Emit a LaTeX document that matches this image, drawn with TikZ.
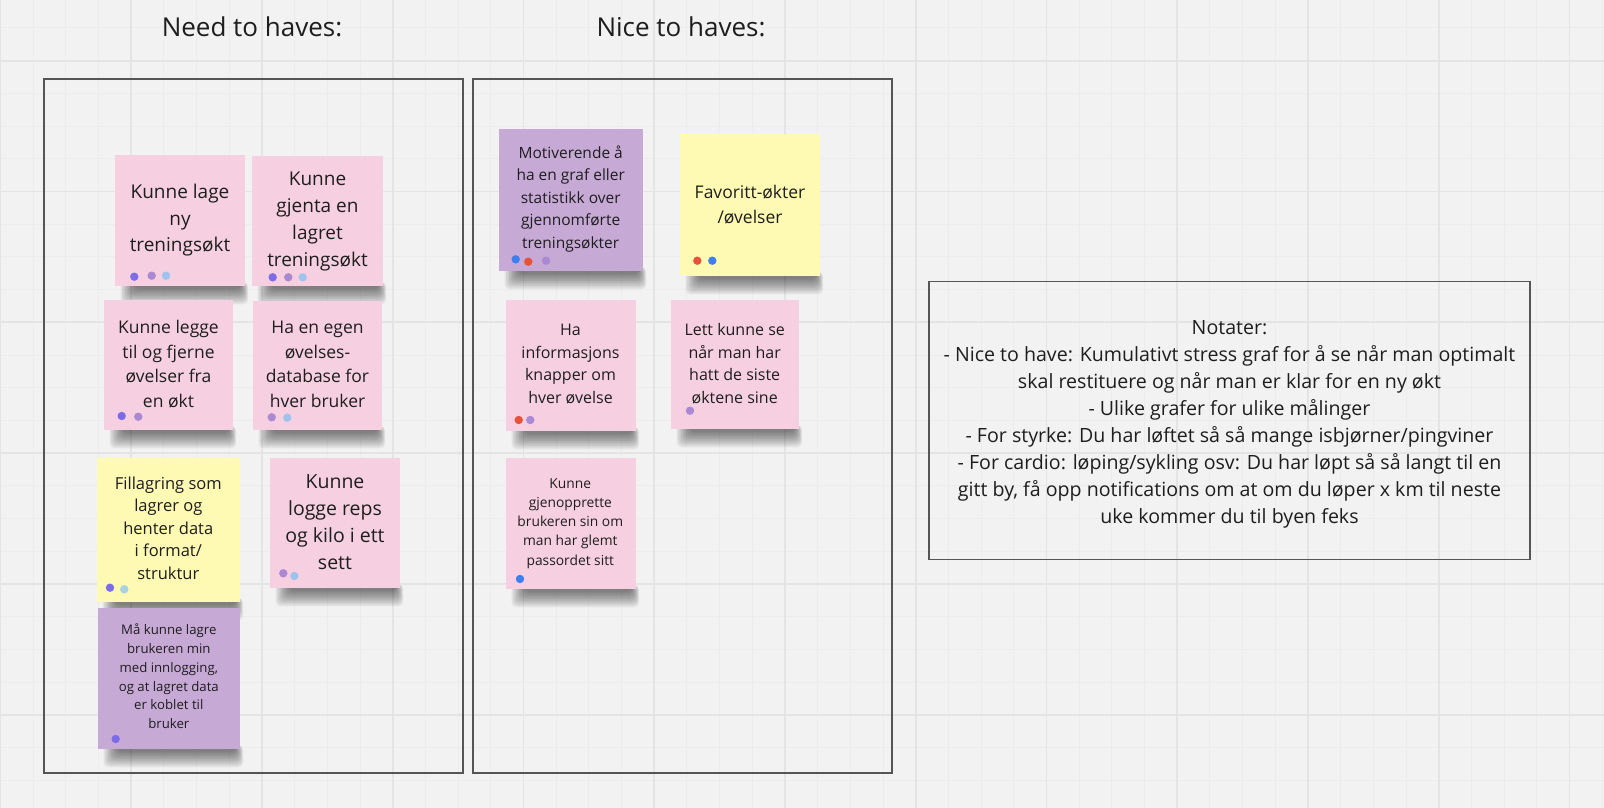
\documentclass[tikz,border=0pt]{standalone}
\usepackage{fontspec}
\setmainfont{Open Sans}
\definecolor{bgc}{HTML}{F2F2F2}
\definecolor{gridminor}{HTML}{ECECEC}
\definecolor{gridmajor}{HTML}{E4E4E4}
\definecolor{framec}{HTML}{555555}
\definecolor{textc}{HTML}{1E1E1E}
\definecolor{pinkc}{HTML}{F6D0E0}
\definecolor{yellowc}{HTML}{FEF9B3}
\definecolor{purplec}{HTML}{C7A9D6}
\definecolor{dotpb}{HTML}{7D6CE8}
\definecolor{dotvi}{HTML}{AA89D2}
\definecolor{dotlb}{HTML}{9FC2EF}
\definecolor{dotrd}{HTML}{E6533A}
\definecolor{dotbl}{HTML}{3D7FEF}
\definecolor{dottl}{HTML}{A6D2E2}
\pgfdeclarelayer{gridlayer}
\pgfdeclarelayer{shadowlayer}
\pgfsetlayers{gridlayer,shadowlayer,main}
\newcommand{\myfs}[2]{\fontsize{#1pt}{#2pt}\selectfont}
\newcommand{\nshadow}[1]{%
  \begin{pgfonlayer}{shadowlayer}
  \foreach \j in {1,...,10} {
    \fill[black, opacity=0.06, rounded corners=5pt]
      ([xshift={(4+1.5*\j)*1pt}, yshift=4pt]#1.south west) rectangle
      ([xshift={(4-0.8*\j)*1pt}, yshift={(1.7*\j-20)*1pt}]#1.south east);
  }
  \end{pgfonlayer}}
\tikzset{
  note/.style={draw=none, inner sep=0, outer sep=0},
  pinknote/.style={note, fill=pinkc},
  yellownote/.style={note, fill=yellowc},
  purplenote/.style={note, fill=purplec},
  notetext/.style={inner sep=0, outer sep=0, align=center, text=textc},
  frame/.style={draw=framec, line width=1.3pt, fill=none},
  dot/.style={circle, inner sep=0, minimum size=8.4pt, draw=none},
  title/.style={inner sep=0, text=textc, anchor=base, font=\myfs{26}{32}},
}
\begin{document}
\begin{tikzpicture}[x=1pt, y=-1pt]
\useasboundingbox (0,0) rectangle (1604,808);
\begin{pgfonlayer}{gridlayer}
\fill[bgc] (0,0) rectangle (1604,808);
\foreach \i in {0,...,49} {
  \draw[gridminor, line width=1pt] ({0.5+\i*32.6875},0) -- ({0.5+\i*32.6875},808);
}
\foreach \k in {-1,...,23} {
  \draw[gridminor, line width=1pt] (0,{60.7+\k*32.7}) -- (1604,{60.7+\k*32.7});
}
\foreach \i in {0,...,12} {
  \draw[gridmajor, line width=1.8pt] ({0.5+\i*130.75},0) -- ({0.5+\i*130.75},808);
}
\foreach \k in {0,...,5} {
  \draw[gridmajor, line width=1.8pt] (0,{60.7+\k*130.8}) -- (1604,{60.7+\k*130.8});
}
\end{pgfonlayer}
% titles
\node[title] (tneed) at (252,36.7) {Need to haves:};
\node[title] (tnice) at (681,36.7) {Nice to haves:};
% frames
\node[frame, minimum width=419pt, minimum height=694pt, inner sep=0] (fneed) at (253.5,426) {};
\node[frame, minimum width=419pt, minimum height=694pt, inner sep=0] (fnice) at (682.5,426) {};
\node[frame, minimum width=601pt, minimum height=278pt, inner sep=0] (fnotes) at (1229.5,420.5) {};
% notes
\node[pinknote, minimum width=130pt, minimum height=131pt] (n1) at (180,220.5) {};
\node[pinknote, minimum width=131pt, minimum height=130pt] (n2) at (317.5,221) {};
\node[pinknote, minimum width=129pt, minimum height=130pt] (n3) at (168.5,365) {};
\node[pinknote, minimum width=129pt, minimum height=129pt] (n4) at (317.5,365.5) {};
\node[yellownote, minimum width=143pt, minimum height=144pt] (n5) at (168.5,530) {};
\node[pinknote, minimum width=130pt, minimum height=130pt] (n6) at (335,523) {};
\node[purplenote, minimum width=142pt, minimum height=141pt] (n7) at (169,678.5) {};
\node[purplenote, minimum width=144pt, minimum height=142pt] (n8) at (571,200) {};
\node[yellownote, minimum width=140pt, minimum height=142pt] (n9) at (750,205) {};
\node[pinknote, minimum width=130pt, minimum height=131pt] (n10) at (571,365.5) {};
\node[pinknote, minimum width=128pt, minimum height=129pt] (n11) at (735,364.5) {};
\node[pinknote, minimum width=130pt, minimum height=131pt] (n12) at (571,523.5) {};
\foreach \nn in {n1,n2,n3,n4,n5,n6,n7,n8,n9,n10,n11,n12} {\nshadow{\nn}}
% note texts
\node[notetext, font=\myfs{19}{26.7}] (t1) at (180,219.7) {\strut Kunne lage\\ny\\treningsøkt\strut};
\node[notetext, font=\myfs{19}{27}] (t2) at (317.5,220.8) {\strut Kunne\\gjenta en\\lagret\\treningsøkt\strut};
\node[notetext, font=\myfs{17.5}{24.8}] (t3) at (168.5,365.5) {\strut Kunne legge\\til og fjerne\\øvelser fra\\en økt\strut};
\node[notetext, font=\myfs{17.5}{24.8}] (t4) at (317.5,365.5) {\strut Ha en egen\\øvelses-\\database for\\hver bruker\strut};
\node[notetext, font=\myfs{16.5}{22.6}] (t5) at (168.3,529.7) {\strut Fillagring som\\lagrer og\\henter data\\i format/\\struktur\strut};
\node[notetext, font=\myfs{19.5}{27}] (t6) at (335,523.4) {\strut Kunne\\logge reps\\og kilo i ett\\sett\strut};
\node[notetext, font=\myfs{13.2}{18.7}] (t7) at (168.8,678) {\strut Må kunne lagre\\brukeren min\\med innlogging,\\og at lagret data\\er koblet til\\bruker\strut};
\node[notetext, font=\myfs{15.5}{22.5}] (t8) at (570.7,198.8) {\strut Motiverende å\\ha en graf eller\\statistikk over\\gjennomførte\\treningsøkter\strut};
\node[notetext, font=\myfs{17.5}{25}] (t9) at (750,205.8) {\strut Favoritt-økter\\/øvelser\strut};
\node[notetext, font=\myfs{16}{22.5}] (t10) at (570.5,365) {\strut Ha\\informasjons\\knapper om\\hver øvelse\strut};
\node[notetext, font=\myfs{16}{22.5}] (t11) at (734.7,365) {\strut Lett kunne se\\når man har\\hatt de siste\\øktene sine\strut};
\node[notetext, font=\myfs{13.8}{19.2}] (t12) at (570.3,522.9) {\strut Kunne\\gjenopprette\\brukeren sin om\\man har glemt\\passordet sitt\strut};
% notes text box
\node[notetext, font=\myfs{19.6}{27}] (tnotes) at (1229.5,423.1) {\strut Notater:\\- Nice to have: Kumulativt stress graf for å se når man optimalt\\skal restituere og når man er klar for en ny økt\\- Ulike grafer for ulike målinger\\- For styrke: Du har løftet så så mange isbjørner/pingviner\\- For cardio: løping/sykling osv: Du har løpt så så langt til en\\gitt by, få opp notifications om at om du løper x km til neste\\uke kommer du til byen feks\strut};
% dots
\node[dot, fill=dotpb] (d1a) at (134.3,276.7) {};
\node[dot, fill=dotvi] (d1b) at (151.7,275.7) {};
\node[dot, fill=dotlb] (d1c) at (166,275.7) {};
\node[dot, fill=dotpb] (d2a) at (272.7,277.3) {};
\node[dot, fill=dotvi] (d2b) at (288.3,277.3) {};
\node[dot, fill=dotlb] (d2c) at (302.7,277.3) {};
\node[dot, fill=dotpb] (d3a) at (121.7,416) {};
\node[dot, fill=dotvi] (d3b) at (138.3,416.7) {};
\node[dot, fill=dotvi] (d4a) at (271.7,417.3) {};
\node[dot, fill=dotlb] (d4b) at (287.3,417.7) {};
\node[dot, fill=dotpb] (d5a) at (110,587.7) {};
\node[dot, fill=dottl] (d5b) at (124.3,589.3) {};
\node[dot, fill=dotvi] (d6a) at (283.3,573.3) {};
\node[dot, fill=dotlb] (d6b) at (294.3,576) {};
\node[dot, fill=dotpb] (d7a) at (115.7,739) {};
\node[dot, fill=dotbl] (d8a) at (515.7,259.3) {};
\node[dot, fill=dotrd] (d8b) at (528.3,261.7) {};
\node[dot, fill=dotvi] (d8c) at (546,260.7) {};
\node[dot, fill=dotrd] (d9a) at (697.3,260.7) {};
\node[dot, fill=dotbl] (d9b) at (712.3,260.7) {};
\node[dot, fill=dotrd] (d10a) at (518.7,420) {};
\node[dot, fill=dotvi] (d10b) at (530.3,420) {};
\node[dot, fill=dotvi] (d11a) at (690,410.7) {};
\node[dot, fill=dotbl] (d12a) at (520,579) {};
\end{tikzpicture}
\end{document}
